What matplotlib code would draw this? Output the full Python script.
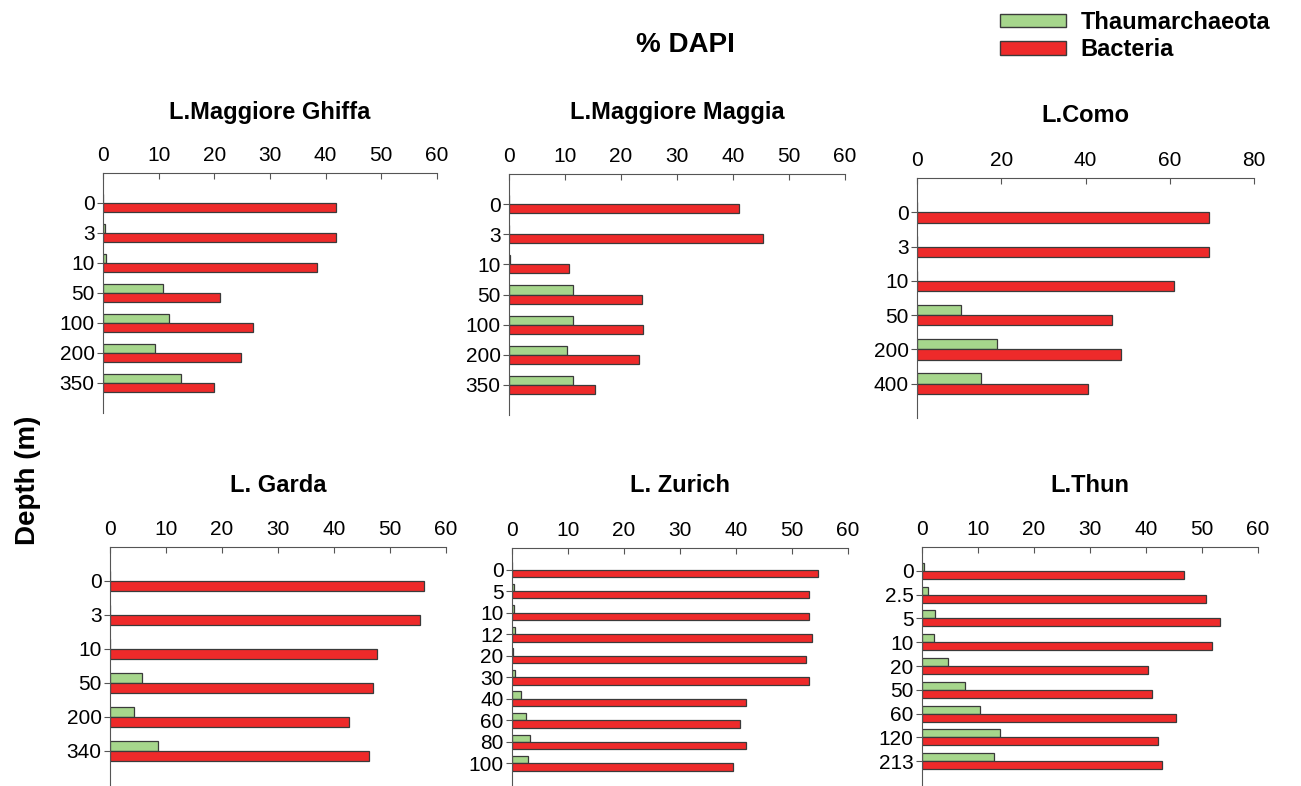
import matplotlib.pyplot as plt
from matplotlib.patches import Patch

plt.rcParams['font.family'] = ['Liberation Sans', 'DejaVu Sans']

# --- data (% DAPI) ---
titles = ['L.Maggiore Ghiffa', 'L.Maggiore Maggia', 'L.Como',
          'L. Garda', 'L. Zurich', 'L.Thun']
depths = [
    ['0', '3', '10', '50', '100', '200', '350'],
    ['0', '3', '10', '50', '100', '200', '350'],
    ['0', '3', '10', '50', '200', '400'],
    ['0', '3', '10', '50', '200', '340'],
    ['0', '5', '10', '12', '20', '30', '40', '60', '80', '100'],
    ['0', '2.5', '5', '10', '20', '50', '60', '120', '213'],
]
thaum = [
    [0, 0.4, 0.6, 10.7, 11.8, 9.3, 14.1],
    [0, 0, 0.1, 11.4, 11.4, 10.4, 11.5],
    [0, 0, 0, 10.5, 19.0, 15.1],
    [0, 0, 0, 5.8, 4.3, 8.6],
    [0, 0.3, 0.3, 0.5, 0.1, 0.6, 1.6, 2.5, 3.2, 2.9],
    [0.4, 1.1, 2.4, 2.1, 4.7, 7.6, 10.4, 13.9, 12.9],
]
bact = [
    [41.8, 41.8, 38.4, 21.0, 26.9, 24.8, 20.0],
    [41.0, 45.3, 10.8, 23.8, 23.9, 23.2, 15.4],
    [69.4, 69.4, 61.0, 46.3, 48.4, 40.6],
    [56.0, 55.4, 47.7, 46.9, 42.6, 46.3],
    [54.6, 53.0, 53.0, 53.5, 52.5, 53.0, 41.7, 40.7, 41.8, 39.5],
    [46.8, 50.7, 53.2, 51.7, 40.4, 41.1, 45.4, 42.2, 42.9],
]
xmax = [60, 60, 80, 60, 60, 60]
xstep = [10, 10, 20, 10, 10, 10]

GREEN = '#a6d68c'
RED = '#ee2a2a'
EDGE = '#3a3a3a'

W, H = 1301, 786
fig = plt.figure(figsize=(W / 100, H / 100), dpi=100)

# axes boxes in pixels: left, right, top, bottom
boxes = [(103, 437, 173, 413), (509, 845, 174, 415), (917, 1254, 178, 418),
         (110, 446, 547, 785), (512, 848, 548, 785), (922, 1258, 547, 785)]
title_y = [112, 113, 116, 486, 486, 486]

for i in range(6):
    l, r, t, b = boxes[i]
    ax = fig.add_axes([l / W, 1 - b / H, (r - l) / W, (b - t) / H])
    n = len(depths[i])
    pos = list(range(n))
    h = 0.3 if n < 8 else 0.34
    ax.barh([p - h for p in pos], thaum[i], height=h, align='edge',
            color=GREEN, edgecolor=EDGE, linewidth=0.9)
    ax.barh(pos, bact[i], height=h, align='edge',
            color=RED, edgecolor=EDGE, linewidth=0.9)
    ax.set_ylim(n, -1)
    ax.set_xlim(0, xmax[i])
    ax.set_xticks(range(0, xmax[i] + 1, xstep[i]))
    ax.set_yticks(pos)
    ax.set_yticklabels(depths[i])
    ax.xaxis.tick_top()
    for s in ['right', 'bottom']:
        ax.spines[s].set_visible(False)
    for s in ['top', 'left']:
        ax.spines[s].set_color('#555555')
    ax.tick_params(axis='x', direction='in', length=4, labelsize=15, pad=6, color='#555555')
    ax.tick_params(axis='y', direction='out', length=4, labelsize=15, pad=2, color='#555555')
    fig.text((l + r) / 2 / W, 1 - title_y[i] / H, titles[i], ha='center', va='center',
             fontsize=17, fontweight='bold')

fig.text(685 / W, 1 - 45 / H, '% DAPI', ha='center', va='center', fontsize=20, fontweight='bold')
fig.text(28 / W, 1 - 480 / H, 'Depth (m)', ha='center', va='center', rotation=90,
         fontsize=20, fontweight='bold')

handles = [Patch(facecolor=GREEN, edgecolor=EDGE), Patch(facecolor=RED, edgecolor=EDGE)]
fig.legend(handles, ['Thaumarchaeota', 'Bacteria'], loc='center', bbox_to_anchor=(1135 / W, 1 - 36 / H),
           frameon=False, prop={'size': 17, 'weight': 'bold'}, handlelength=2.8, handleheight=0.5,
           labelspacing=0.2, handletextpad=0.6)

fig.savefig('out.png', dpi=100)
